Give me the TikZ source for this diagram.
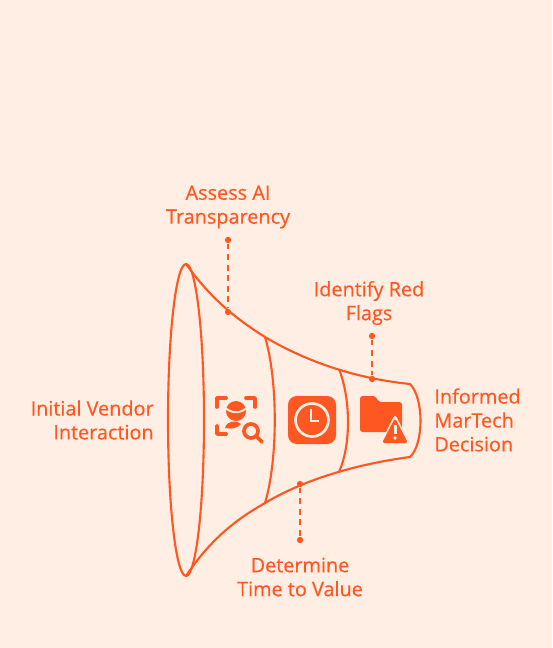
\documentclass[tikz,border=0pt]{standalone}
\usepackage{fontspec}
\newfontfamily\capfont[RawFeature={embolden=0.4}]{Open Sans}
\definecolor{pagebg}{HTML}{FFEEE3}
\definecolor{funnelred}{HTML}{FF5722}
\tikzset{
  funnelline/.style={draw=funnelred,line width=1.2pt},
  leader/.style={draw=funnelred,line width=1.2pt,dash pattern=on 3.4pt off 2.6pt},
  enddot/.style={circle,fill=funnelred,inner sep=0pt,minimum size=3.6pt},
  caption/.style={text=funnelred,font=\capfont\fontsize{11.3}{13.6}\selectfont,inner sep=0pt}
}

\begin{document}
\begin{tikzpicture}[x=0.2mm,y=-0.2mm]
% background
\fill[pagebg] (0,0) rectangle (552,648);
\useasboundingbox (0,0) rectangle (552,648);
% funnel outline
\draw[funnelline] (186,420) ellipse (18 and 156);
\draw[funnelline,line join=round] (186,264) .. controls (205,290) and (225,312) .. (265,337)
  .. controls (300,358) and (350,378) .. (410,384)
  .. controls (424,398) and (424,444) .. (410,457)
  .. controls (350,465) and (300,482) .. (265,503)
  .. controls (235,520) and (210,540) .. (186,576);
% dividers
\draw[funnelline] (265,337) .. controls (278,380) and (278,460) .. (265,503);
\draw[funnelline] (339,369) .. controls (351,400) and (351,445) .. (339,472);
% leaders
\node[enddot] (assesstop) at (228,240) {};
\node[enddot] (assessend) at (228,312) {};
\node[enddot] (flagstop) at (372,336) {};
\node[enddot] (flagsend) at (372,379) {};
\node[enddot] (timeend) at (300,484) {};
\node[enddot] (timebot) at (300,540) {};
\draw[leader] (assesstop) -- (assessend);
\draw[leader] (flagstop) -- (flagsend);
\draw[leader] (timeend) -- (timebot);
% labels
\node[caption,align=center] (assess) at (228,207) {Assess AI\\Transparency};
\node[caption,align=center] (flags) at (369,303) {Identify Red\\Flags};
\node[caption,align=right,anchor=east] (vendor) at (154,420) {Initial Vendor\\Interaction};
\node[caption,align=left,anchor=west] (decision) at (434,420) {Informed\\MarTech\\Decision};
\node[caption,align=center] (time) at (300,577) {Determine\\Time to Value};
% scan icon
\draw[funnelred,line width=2.1pt,line cap=round,line join=round]
  (217,407) -- (217,398) -- (226,398)
  (246,398) -- (255,398) -- (255,407)
  (217,426) -- (217,434) -- (226,434);
\fill[funnelred] (236,411) circle (10);
\draw[pagebg,line width=1.1pt] (224,407) .. controls (232,414) and (240,414) .. (248,407);
\fill[funnelred] (225,428) .. controls (227,420) and (237,420) .. (241,424) .. controls (237,429) and (230,429) .. (225,428) -- cycle;
\draw[funnelred,line width=2.1pt,line cap=round] (251,431) circle (7) (256,436) -- (262,442);
% clock icon
\fill[funnelred,rounded corners=5pt] (288,396) rectangle (336,444);
\draw[pagebg,line width=1.5pt] (312,420) circle (16.5);
\draw[pagebg,line width=1.5pt] (311,409) -- (311,421) -- (319,421);
% folder icon
\fill[funnelred,rounded corners=1.5pt] (360,396) -- (375,396) -- (379,402) -- (402,402) -- (402,432) -- (360,432) -- cycle;
\fill[pagebg,rounded corners=2pt] (395,414) -- (411,446) -- (379,446) -- cycle;
\fill[funnelred,rounded corners=1.5pt] (395,418) -- (408,443) -- (382,443) -- cycle;
\fill[pagebg] (393.5,425) rectangle (396.5,434);
\fill[pagebg] (395,438) circle (1.8);
\end{tikzpicture}
\end{document}
